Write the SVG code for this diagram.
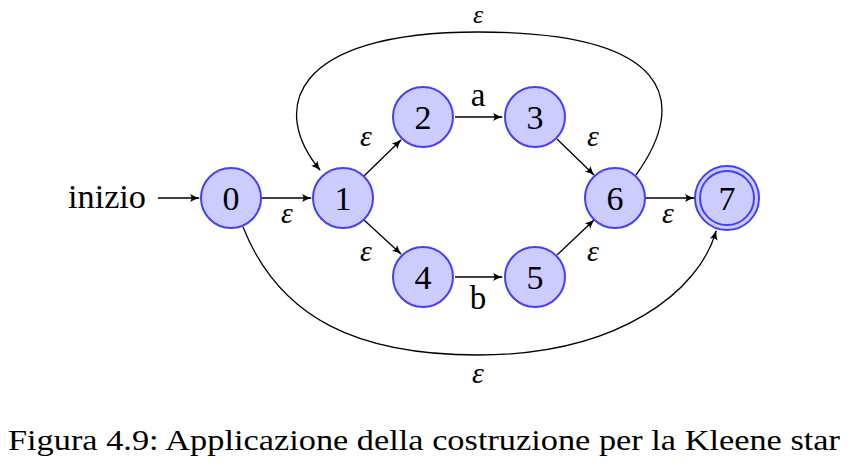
<svg xmlns="http://www.w3.org/2000/svg" width="849" height="465" viewBox="0 0 849 465">
<style>
.st{fill:#ccccff;stroke:#4040ff;stroke-width:2}
.lb{font-family:"Liberation Serif",serif;font-size:33px;text-anchor:middle;fill:#000}
.num{font-family:"Liberation Serif",serif;font-size:34px;text-anchor:middle;fill:#000}
.eps{font-family:"Liberation Serif",serif;font-size:30px;font-style:italic;text-anchor:middle;fill:#000}
.e{fill:none;stroke:#000;stroke-width:1.3;marker-end:url(#ah)}
</style>
<defs>
<marker id="ah" viewBox="0 0 10 10" refX="9" refY="5" markerWidth="10" markerHeight="10" markerUnits="userSpaceOnUse" orient="auto">
<path d="M0,1 Q5,4 10,5 Q5,6 0,9 Q3,5 0,1 Z" fill="#000"/>
</marker>
</defs>
<rect width="849" height="465" fill="#fff"/>
<g id="connectors">
<line class="e" x1="158" y1="198" x2="199" y2="198"/>
<line class="e" x1="262" y1="198" x2="311" y2="198"/>
<line class="e" x1="364" y1="176" x2="401" y2="140"/>
<line class="e" x1="364" y1="220" x2="401" y2="254"/>
<line class="e" x1="455" y1="117" x2="502" y2="117"/>
<line class="e" x1="455" y1="277" x2="502" y2="277"/>
<line class="e" x1="557" y1="139" x2="594" y2="175"/>
<line class="e" x1="557" y1="255" x2="594" y2="220"/>
<line class="e" x1="646" y1="198" x2="694" y2="198"/>
<path class="e" d="M636,175 C690,100 670,32 478,32 C290,32 270,110 320,170"/>
<path class="e" d="M243,227 C280,320 360,355 478,355 C620,355 700,290 716,231"/>
<text class="eps" x="287" y="223">ε</text>
<text class="eps" x="366" y="146">ε</text>
<text class="eps" x="366" y="261">ε</text>
<text class="lb" x="478" y="106">a</text>
<text class="lb" x="478" y="309">b</text>
<text class="eps" x="593" y="146">ε</text>
<text class="eps" x="593" y="261">ε</text>
<text class="eps" x="668" y="223">ε</text>
<text class="eps" x="478" y="23" style="font-size:26px">ε</text>
<text class="eps" x="478" y="383">ε</text>
<text class="lb" x="107" y="208" textLength="78" lengthAdjust="spacingAndGlyphs">inizio</text>
</g>
<g id="n0"><circle class="st" cx="231" cy="198" r="30"/><text class="num" x="231" y="210">0</text></g>
<g id="n1"><circle class="st" cx="343" cy="198" r="30"/><text class="num" x="343" y="210">1</text></g>
<g id="n2"><circle class="st" cx="423" cy="117" r="30"/><text class="num" x="423" y="129">2</text></g>
<g id="n3"><circle class="st" cx="535" cy="117" r="30"/><text class="num" x="535" y="129">3</text></g>
<g id="n4"><circle class="st" cx="423" cy="277" r="30"/><text class="num" x="423" y="289">4</text></g>
<g id="n5"><circle class="st" cx="535" cy="277" r="30"/><text class="num" x="535" y="289">5</text></g>
<g id="n6"><circle class="st" cx="615" cy="198" r="30"/><text class="num" x="615" y="210">6</text></g>
<g id="n7"><circle class="st" cx="727" cy="198" r="32"/><circle class="st" cx="727" cy="198" r="27"/><text class="num" x="727" y="210">7</text></g>
<text id="caption" class="lb" x="424" y="450" style="font-size:30px" textLength="832" lengthAdjust="spacingAndGlyphs">Figura 4.9: Applicazione della costruzione per la Kleene star</text>
</svg>
